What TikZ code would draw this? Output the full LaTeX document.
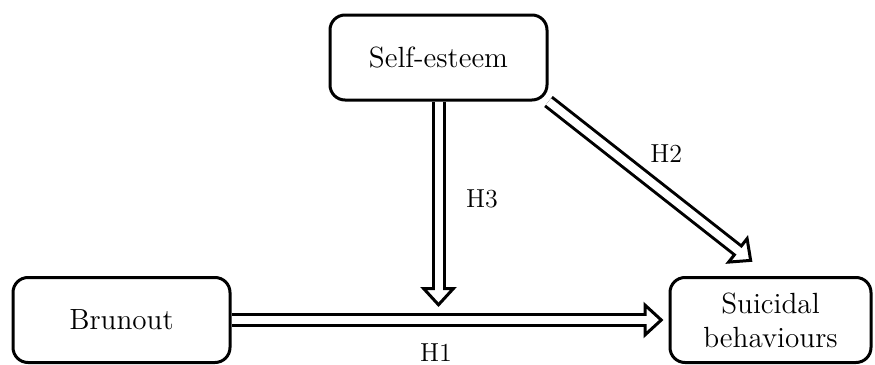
\documentclass[tikz,border=0pt]{standalone}
\usepackage{tikz}
\usetikzlibrary{positioning, arrows.meta, calc, backgrounds}
\tikzset{
  box/.style={rounded corners=7.5pt, draw, line width=1.5pt, fill=white,
              align=center, font=\fontsize{14.6}{17}\selectfont,
              minimum width=108.5pt, minimum height=42.5pt, inner sep=3pt},
  hyp/.style={line width=7pt, shorten >=#1,
              -{Triangle[length=10pt, width=18pt, fill=white, line width=1.5pt]},
              postaction={draw=white, line width=4pt, -, shorten >=#1+7.5pt}},
  hyp/.default=0pt,
  lbl/.style={font=\fontsize{13}{15}\selectfont, inner sep=0pt},
}

\begin{document}
\begin{tikzpicture}[x=0.5pt, y=-0.5pt]
  \useasboundingbox (0,0) rectangle (875,365);
  % Constructs
  \node[box] (self) at (438.5,57.5) {Self-esteem};
  \node[box] (burn) at (121.5,320) {Brunout};
  \node[box, minimum width=100.5pt] (suic) at (770.5,320) {Suicidal\\ behaviours};
  % Hypotheses
  \begin{scope}[on background layer]
    \draw[hyp=2.5pt] (burn.east) -- node[lbl, pos=0.468, yshift=-16.5pt]{H1} (suic.west);
    \draw[hyp=11.5pt] (self.south east) -- node[lbl, pos=0.44, xshift=10pt, yshift=12.5pt]{H2} (suic.north);
    \draw[hyp=6.5pt] (self.south) -- node[lbl, pos=0.445, xshift=21.75pt]{H3} (self.south |- burn.east);
  \end{scope}
\end{tikzpicture}
\end{document}
